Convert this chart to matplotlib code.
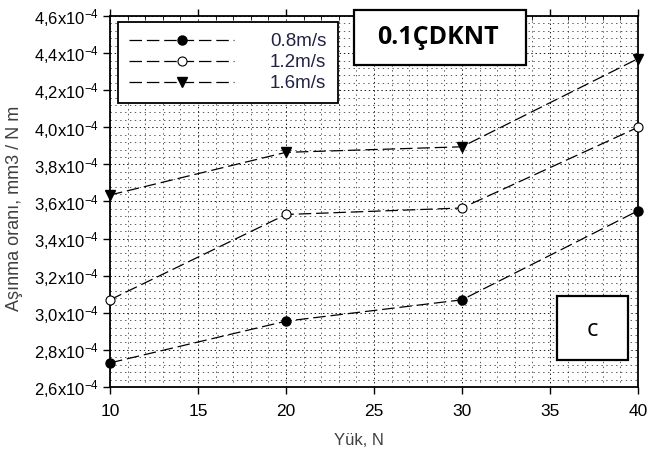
import matplotlib
matplotlib.use("Agg")
import matplotlib.pyplot as plt
from matplotlib.patches import Rectangle
from matplotlib.ticker import FuncFormatter, MultipleLocator

plt.rcParams['font.family'] = ['Liberation Sans', 'DejaVu Sans']
plt.rcParams['mathtext.fontset'] = 'custom'
plt.rcParams['mathtext.rm'] = 'Liberation Sans'
plt.rcParams['mathtext.it'] = 'Liberation Sans'
plt.rcParams['lines.scale_dashes'] = False

loads = [10, 20, 30, 40]
rate_08 = [2.73e-4, 2.955e-4, 3.07e-4, 3.55e-4]
rate_12 = [3.07e-4, 3.53e-4, 3.565e-4, 4.00e-4]
rate_16 = [3.635e-4, 3.865e-4, 3.895e-4, 4.37e-4]
labels = ["0.8m/s", "1.2m/s", "1.6m/s"]

W, H = 648, 454
fig = plt.figure(figsize=(W/100, H/100), dpi=100)
ax = fig.add_axes([110/W, 1 - 387/H, 528/W, 371/H])

dash = (9, 3.5)
ax.plot(loads, rate_08, color='black', lw=0.9, dashes=dash, marker='o', ms=6.5,
        mfc='black', mec='black', label=labels[0], zorder=5, clip_on=False)
ax.plot(loads, rate_12, color='black', lw=0.9, dashes=dash, marker='o', ms=6.5,
        mfc='white', mec='black', mew=0.8, label=labels[1], zorder=5, clip_on=False)
ax.plot(loads, rate_16, color='black', lw=0.9, dashes=dash, marker='v', ms=7,
        mfc='black', mec='black', label=labels[2], zorder=5, clip_on=False)

ax.set_xlim(10, 40)
ax.set_ylim(2.6e-4, 4.6e-4)
ax.xaxis.set_major_locator(MultipleLocator(5))
ax.xaxis.set_minor_locator(MultipleLocator(1))
ax.yaxis.set_major_locator(MultipleLocator(0.2e-4))
ax.yaxis.set_minor_locator(MultipleLocator(0.04e-4))


def yfmt(v, pos):
    s = f"{v*1e4:.1f}".replace('.', ',')
    return s + r"x10$^{-4}$"


ax.yaxis.set_major_formatter(FuncFormatter(yfmt))

ax.grid(which='major', color='black', linestyle=(0, (1, 2)), lw=0.7, alpha=0.9)
ax.grid(which='minor', color='black', linestyle=(0, (1, 2.5)), lw=0.6, alpha=0.75)
ax.set_axisbelow(True)

ax.tick_params(axis='both', which='major', direction='out', length=5, width=1,
               colors='black')
ax.tick_params(axis='y', which='major', labelsize=12, pad=3)
ax.tick_params(axis='x', which='major', labelsize=12.5, top=True, pad=7)
ax.tick_params(axis='y', which='minor', left=False)
ax.tick_params(axis='x', which='minor', bottom=False, top=True, direction='in', length=3)
for sp in ax.spines.values():
    sp.set_linewidth(1.3)

ax.set_xlabel("Yük, N", fontsize=12, color='#404040')
ax.xaxis.set_label_coords((359 - 110) / 528, -0.125)
fig.text(15/W, 1 - 208/H, "Aşınma oranı, mm3 / N m", fontsize=13, color='#404040',
         rotation=90, ha='center', va='center')

leg = ax.legend(loc='upper left', bbox_to_anchor=(8/528, 1 - 6/371), handlelength=5.6,
                handletextpad=1.9, fontsize=13.5, frameon=True, fancybox=False,
                borderpad=0.6, labelspacing=0.2, borderaxespad=0)
leg.get_frame().set_edgecolor('black')
leg.get_frame().set_linewidth(1.3)
leg.get_frame().set_alpha(1)
for t in leg.get_texts():
    t.set_color('#222244')

# title box
fig.patches.append(Rectangle((354/W, 1 - 65/H), 172/W, 55/H, transform=fig.transFigure,
                             fc='white', ec='black', lw=1.6, zorder=10))
fig.text(438/W, 1 - 38/H, "0.1ÇDKNT", fontsize=18, fontweight='bold',
         family='Open Sans', ha='center', va='center', zorder=11)
# panel label box
fig.patches.append(Rectangle((557/W, 1 - 360/H), 71/W, 64/H, transform=fig.transFigure,
                             fc='white', ec='black', lw=1.6, zorder=10))
fig.text(592/W, 1 - 330/H, "c", fontsize=17, family='Open Sans',
         ha='center', va='center', zorder=11)

fig.savefig("out.png", dpi=100)
